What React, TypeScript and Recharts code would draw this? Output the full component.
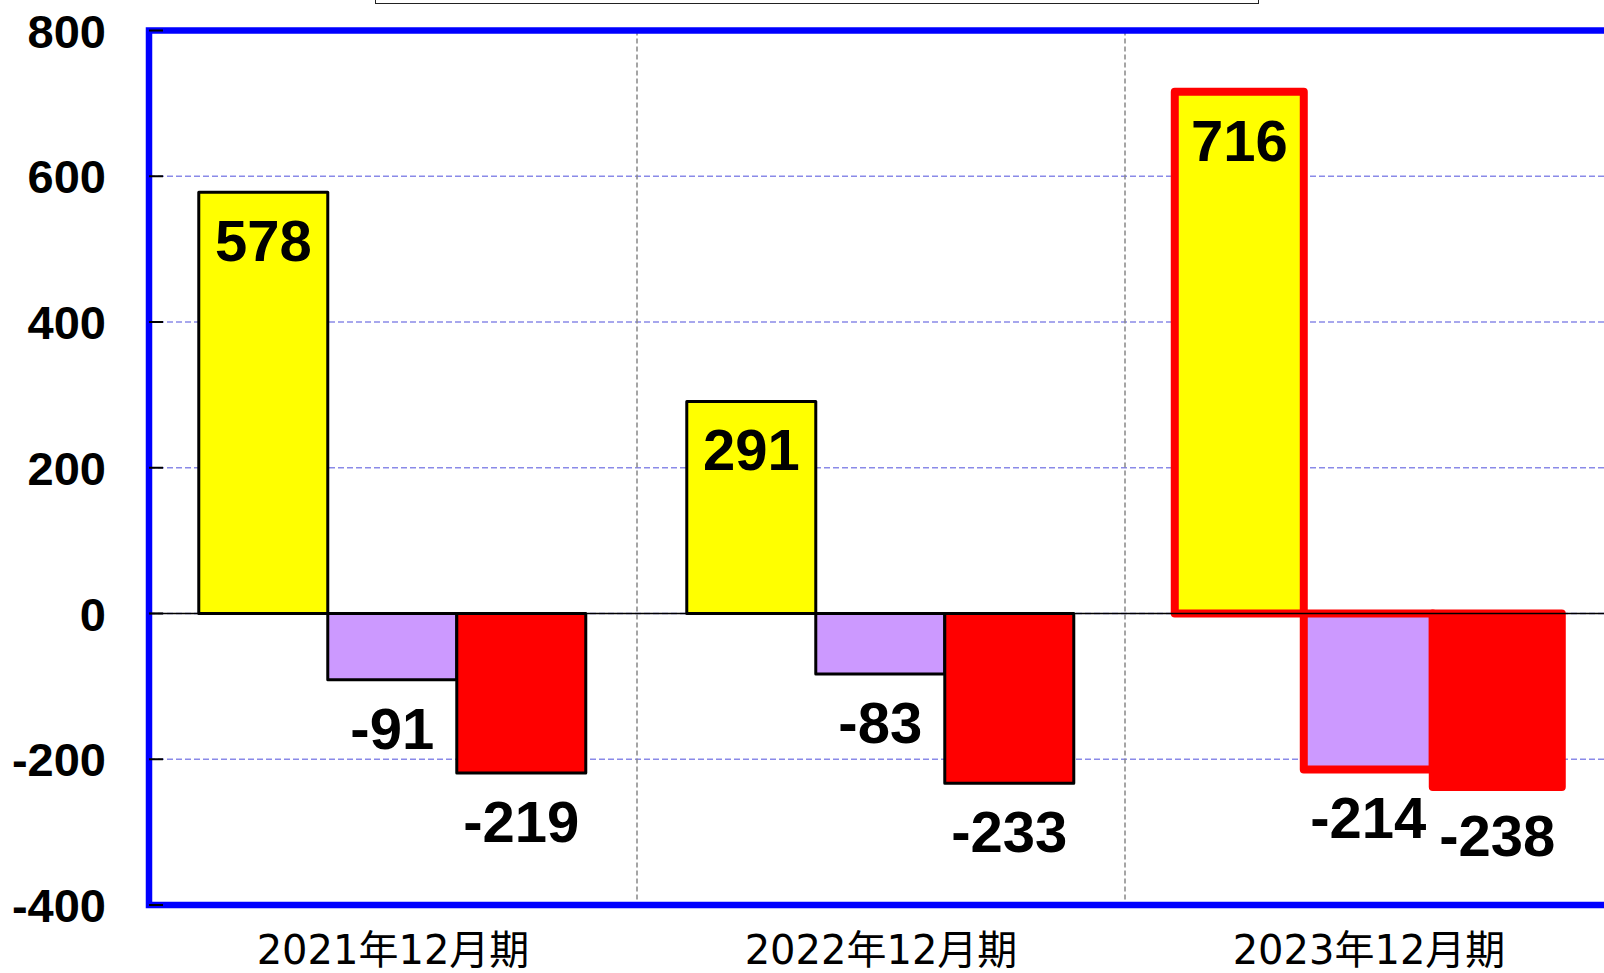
import React from "react";
import {
  BarChart,
  Bar,
  XAxis,
  YAxis,
  CartesianGrid,
  ReferenceLine,
  ReferenceArea,
  LabelList,
  Cell,
} from "recharts";

const periods = ["2021年12月期", "2022年12月期", "2023年12月期"];
const operatingCF = [578, 291, 716];
const investingCF = [-91, -83, -214];
const financingCF = [-219, -233, -238];
const seriesNames = ["営業CF", "投資CF", "財務CF"];
const seriesColors = ["#ffff00", "#cc99ff", "#ff0000"];
const yTicks = [-400, -200, 0, 200, 400, 600, 800];
const highlightIndex = 2;

const data = periods.map((p, i) => ({
  period: p,
  operating: operatingCF[i],
  investing: investingCF[i],
  financing: financingCF[i],
}));
const seriesKeys = ["operating", "investing", "financing"];

const YTick = ({ x, y, payload }: any) => (
  <g>
    <line x1={x} x2={x + 14} y1={y} y2={y} stroke="#000" strokeWidth={2} />
    <text
      x={x - 43}
      y={y + 17}
      textAnchor="end"
      fontFamily="'Liberation Sans', Arial, sans-serif"
      fontWeight="bold"
      fontSize={47}
      fill="#000"
    >
      {payload.value}
    </text>
  </g>
);

const XTick = ({ x, y, payload }: any) => (
  <text
    x={x}
    y={y + 59}
    textAnchor="middle"
    fontFamily="'DejaVu Sans', 'Noto Sans CJK JP', sans-serif"
    fontSize={40}
    fill="#000"
  >
    {payload.value}
  </text>
);

const renderValueLabel = (props: any) => {
  const { x, y, width, height, value } = props;
  const end = value >= 0 ? Math.min(y, y + height) : Math.max(y, y + height);
  return (
    <text
      x={x + width / 2}
      y={end + 69}
      textAnchor="middle"
      fontFamily="'Liberation Sans', Arial, sans-serif"
      fontWeight="bold"
      fontSize={58}
      fill="#000"
    >
      {value}
    </text>
  );
};

export default function App() {
  return (
    <div
      style={{
        position: "absolute",
        left: 0,
        top: 0,
        width: 1604,
        height: 973,
        overflow: "hidden",
        background: "#fff",
      }}
    >
      {/* legend frame, mostly above the visible area */}
      <div
        style={{
          position: "absolute",
          left: 375,
          top: -58,
          width: 884,
          height: 62,
          border: "1.5px solid #222",
          boxSizing: "border-box",
        }}
      />
      <BarChart
        width={1640}
        height={973}
        data={data}
        margin={{ top: 30.5, right: 27, bottom: 0, left: 0 }}
        barCategoryGap="10.2%"
        barGap={0}
      >
        <CartesianGrid
          vertical={false}
          stroke="#8a8ae8"
          strokeDasharray="6 3"
          strokeWidth={1.5}
        />
        <CartesianGrid
          horizontal={false}
          stroke="#888"
          strokeDasharray="5 3"
          strokeWidth={1.5}
          verticalCoordinatesGenerator={({ offset }: any) =>
            periods.slice(1).map((_, i) => offset.left + (offset.width * (i + 1)) / periods.length)
          }
        />
        <XAxis
          dataKey="period"
          height={68}
          axisLine={false}
          tickLine={false}
          tickSize={0}
          tickMargin={0}
          tick={<XTick />}
          interval={0}
        />
        <YAxis
          width={149}
          domain={[-400, 800]}
          ticks={yTicks}
          interval={0}
          axisLine={false}
          tickLine={false}
          tickSize={0}
          tickMargin={0}
          tick={<YTick />}
        />
        <ReferenceLine y={0} stroke="#000" strokeWidth={1.5} />
        {seriesKeys.map((k, si) => (
          <Bar
            key={k}
            dataKey={k}
            name={seriesNames[si]}
            fill={seriesColors[si]}
            isAnimationActive={false}
          >
            {data.map((_, i) => (
              <Cell
                key={i}
                fill={seriesColors[si]}
                stroke={i === highlightIndex ? "#ff0000" : "#000"}
                strokeWidth={i === highlightIndex ? 8 : 3}
                strokeLinejoin="round"
              />
            ))}
            <LabelList dataKey={k} content={renderValueLabel} />
          </Bar>
        ))}
        <ReferenceArea
          y1={-400}
          y2={800}
          fill="none"
          stroke="#0000ff"
          strokeWidth={6.5}
          ifOverflow="visible"
        />
      </BarChart>
    </div>
  );
}
